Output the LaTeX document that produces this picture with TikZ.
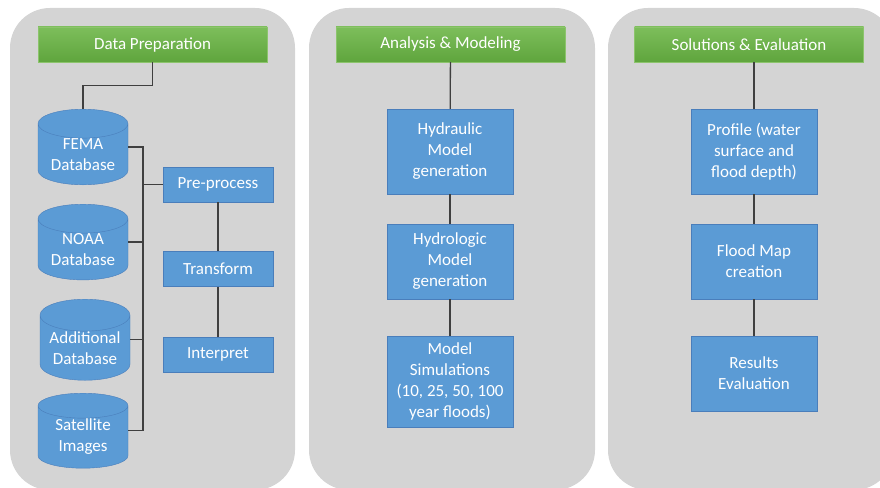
\documentclass[tikz,border=0pt]{standalone}
\usepackage{fontspec}
\setmainfont{Carlito}
\usetikzlibrary{shapes.geometric}
\definecolor{panelgray}{HTML}{D4D4D4}
\definecolor{boxblue}{HTML}{5B9BD5}
\definecolor{boxedge}{HTML}{4A7EBB}
\definecolor{headtop}{HTML}{7DBE5B}
\definecolor{headbot}{HTML}{5FA53D}
\definecolor{headedge}{HTML}{8CC46C}
\definecolor{linkgray}{HTML}{3F3F3F}
\tikzset{
  panel/.style={fill=panelgray, rounded corners=40pt},
  header/.style={rectangle, top color=headtop, bottom color=headbot, draw=headedge,
    minimum width=229, minimum height=35, inner sep=0, text=white},
  stepbox/.style={rectangle, fill=boxblue, draw=boxedge, text=white, align=center,
    minimum width=126, inner sep=0},
  smallbox/.style={rectangle, fill=boxblue, draw=boxedge, text=white,
    minimum width=110, minimum height=35, inner sep=0},
  db/.style={cylinder, shape border rotate=90, aspect=0.45, fill=boxblue, draw=boxedge,
    text=white, align=center, minimum width=90, minimum height=75, inner sep=0, anchor=north},
  link/.style={draw=linkgray, line width=1.3pt},
}
\begin{document}
\begin{tikzpicture}[x=1pt, y=-1pt, font=\fontsize{17}{21}\selectfont]
\useasboundingbox (0,0) rectangle (880,487);
\clip (0,0) rectangle (880,487);
% panels
\fill[panel] (10,8) rectangle (295,490);
\fill[panel] (309,8) rectangle (595,490);
\fill[panel] (608,8) rectangle (894,490);
% headers
\node[header] (prep) at (152.5,44.5) {Data Preparation};
\node[header] (model) at (450.5,44.5) {Analysis \& Modeling};
\node[header] (solve) at (749,44.5) {Solutions \& Evaluation};
% data sources
\node[db] (fema) at (83,109) {FEMA\\Database};
\node[db] (noaa) at (83,204) {NOAA\\Database};
\node[db] (extra) at (85,299) {Additional\\Database};
\node[db] (sat) at (83,393) {Satellite\\Images};
\node[smallbox] (pre) at (218,184.5) {Pre-process};
\node[smallbox] (trans) at (218,269) {Transform};
\node[smallbox] (interp) at (218,354.5) {Interpret};
% analysis
\node[stepbox, minimum height=85] (hydra) at (450,151.5) {Hydraulic\\Model\\generation};
\node[stepbox, minimum height=75] (hydro) at (450,261.5) {Hydrologic\\Model\\generation};
\node[stepbox, minimum height=91] (sim) at (450,381.5) {Model\\Simulations\\(10, 25, 50, 100\\year floods)};
% solutions
\node[stepbox, minimum height=85] (prof) at (754,151.5) {Profile (water\\surface and\\flood depth)};
\node[stepbox, minimum height=75] (fmap) at (754,261.5) {Flood Map\\creation};
\node[stepbox, minimum height=75] (res) at (754,373.5) {Results\\Evaluation};
% connectors
\coordinate (bus) at (143,0);
\draw[link] (prep.south) -- ++(0,23) -| (fema.north);
\draw[link] (fema.shape center -| fema.east) -- (fema.shape center -| bus)
  -- (sat.shape center -| bus) -- (sat.shape center -| sat.east);
\draw[link] (noaa.shape center -| noaa.east) -- (noaa.shape center -| bus);
\draw[link] (extra.shape center -| extra.east) -- (extra.shape center -| bus);
\draw[link] (pre.west) -- (pre.west -| bus);
\draw[link] (pre) -- (trans);
\draw[link] (trans) -- (interp);
\draw[link] (model) -- (hydra);
\draw[link] (hydra) -- (hydro);
\draw[link] (hydro) -- (sim);
\draw[link] (solve.south -| prof.north) -- (prof.north);
\draw[link] (prof) -- (fmap);
\draw[link] (fmap) -- (res);
\end{tikzpicture}
\end{document}
